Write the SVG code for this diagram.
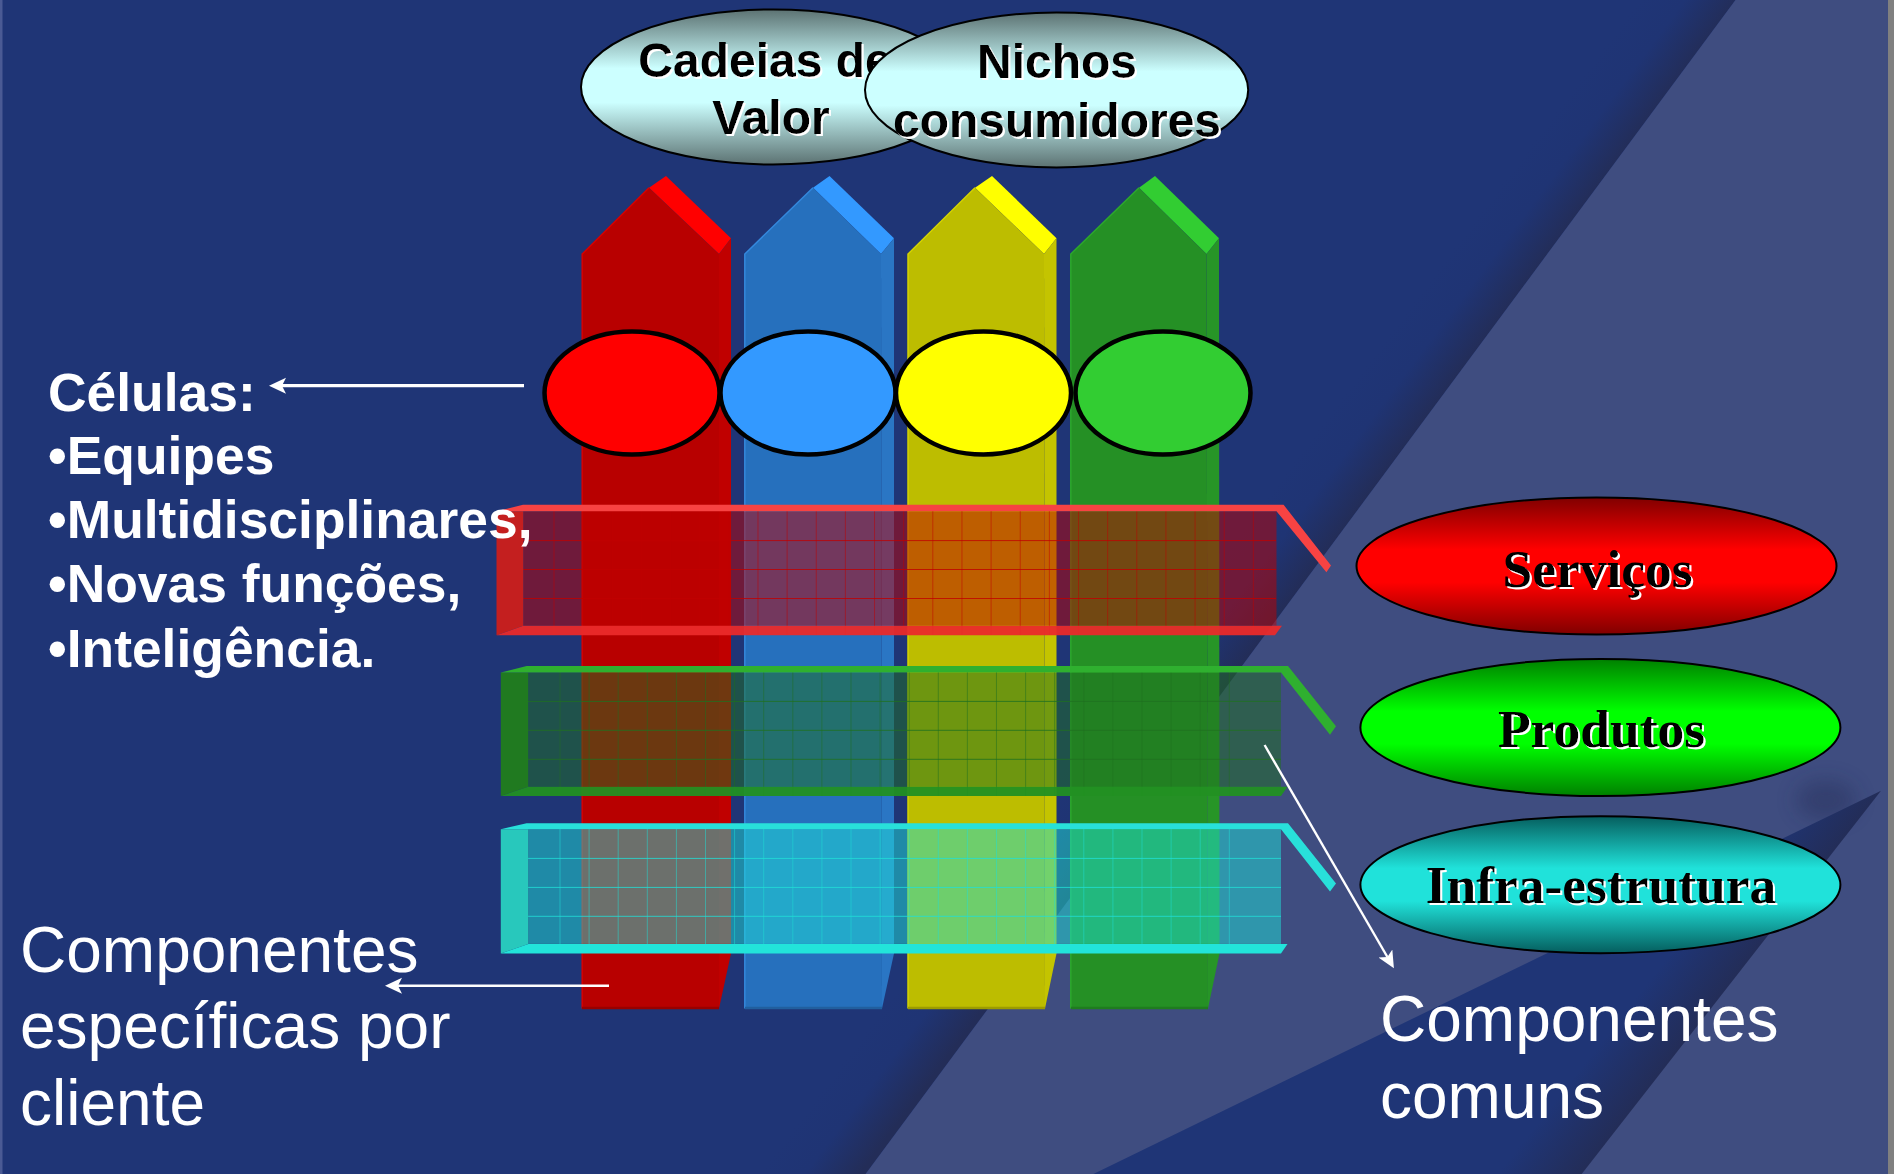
<svg xmlns="http://www.w3.org/2000/svg" width="1894" height="1174" viewBox="0 0 1894 1174">
<style>
.sans{font-family:"Liberation Sans",Arial,sans-serif}
.bold{font-weight:700}
.serif{font-family:"Liberation Serif","Times New Roman",serif;font-weight:700;font-size:53.5px;text-anchor:middle;fill:#000;filter:url(#whiteShadow)}
.top{font-size:48px;text-anchor:middle;fill:#000;filter:url(#whiteShadow)}
.list{font-size:53.4px;fill:#fff}
.note{font-size:64px;fill:#fff}
.cell{stroke:#000;stroke-width:4.5}
.oval{stroke:#000;stroke-width:2}
.conn{fill:none;stroke:#fff;marker-end:url(#head)}
.grid{fill:none;stroke-width:1;stroke-opacity:.5}
.gridh{fill:none;stroke-width:1;stroke-opacity:.8}
</style>
<defs>
<filter id="whiteShadow" x="-5%" y="-10%" width="110%" height="125%"><feDropShadow dx="2" dy="2" stdDeviation="0" flood-color="#fff" flood-opacity="1"/></filter>
<filter id="blur" x="-60%" y="-60%" width="220%" height="220%"><feGaussianBlur stdDeviation="10"/></filter>
<marker id="head" markerUnits="userSpaceOnUse" markerWidth="18" markerHeight="18" refX="4" refY="8" orient="auto"><path d="M17 8L0 0 4 8 0 16Z" fill="#fff"/></marker>
<linearGradient id="bgShade" gradientUnits="userSpaceOnUse" x1="1236" y1="539" x2="1300" y2="587"><stop offset="0" stop-color="#1f3576"/><stop offset="0.45" stop-color="#1f3474"/><stop offset="1" stop-color="#232d58"/></linearGradient>
<linearGradient id="wedgeShade" gradientUnits="userSpaceOnUse" x1="1680" y1="942" x2="1731" y2="982"><stop offset="0" stop-color="#1f3576"/><stop offset="1" stop-color="#232d58"/></linearGradient>
<linearGradient id="gCyanPale" x1="0" y1="0" x2="0" y2="1"><stop offset="0" stop-color="#5c7272"/><stop offset="0.38" stop-color="#ccffff"/><stop offset="0.6" stop-color="#ccffff"/><stop offset="1" stop-color="#5c7272"/></linearGradient>
<linearGradient id="gRed" x1="0" y1="0" x2="0" y2="1"><stop offset="0" stop-color="#800000"/><stop offset="0.38" stop-color="#ff0000"/><stop offset="0.62" stop-color="#ff0000"/><stop offset="1" stop-color="#800000"/></linearGradient>
<linearGradient id="gGreen" x1="0" y1="0" x2="0" y2="1"><stop offset="0" stop-color="#008000"/><stop offset="0.38" stop-color="#00ff00"/><stop offset="0.62" stop-color="#00ff00"/><stop offset="1" stop-color="#008000"/></linearGradient>
<linearGradient id="gTeal" x1="0" y1="0" x2="0" y2="1"><stop offset="0" stop-color="#055e5e"/><stop offset="0.38" stop-color="#20e2da"/><stop offset="0.62" stop-color="#20e2da"/><stop offset="1" stop-color="#055e5e"/></linearGradient>
</defs>

<g id="background">
<rect width="1894" height="1174" fill="#1f3576"/>
<polygon points="0,0 1735.5,0 865.6,1174 0,1174" fill="url(#bgShade)"/>
<polygon points="1735.5,0 1888,0 1888,1174 865.6,1174" fill="#3f4d80"/>
<ellipse cx="1826" cy="800" rx="30" ry="20" fill="#222c55" opacity="0.4" filter="url(#blur)"/>
<polygon points="1881,790.7 1581.7,1174 1093.4,1174" fill="url(#wedgeShade)"/>
<rect x="1888" width="6" height="1174" fill="#808080"/>
<rect width="2.5" height="1174" fill="#4a5a94"/>
</g>

<g id="column-red">
<polygon points="649,187.7 666,176 731,238.3 719,254" fill="#ff0000"/>
<polygon points="719,254 731,238.3 731,953.5 719,1008.6" fill="#c00000"/>
<polygon points="582.2,254 649,187.7 719,254 719,1008.6 582.2,1008.6" fill="#b80000"/>
<polyline points="582.2,1008.6 582.2,254 649,187.7" fill="none" stroke="#d80000" stroke-width="1.5"/>
<path d="M582 1008h137" stroke="#980000" stroke-width="2.5"/>
</g>
<g id="column-blue">
<polygon points="813,187.7 829.5,176 894,238.3 881,254" fill="#3399ff"/>
<polygon points="881,254 894,238.3 894,953.5 882,1008.6" fill="#2a76c4"/>
<polygon points="744.8,254 813,187.7 881,254 882,1008.6 744.8,1008.6" fill="#2670bd"/>
<polyline points="744.8,1008.6 744.8,254 813,187.7" fill="none" stroke="#3488dc" stroke-width="1.5"/>
<path d="M745 1008h137" stroke="#215f9f" stroke-width="2.5"/>
</g>
<g id="column-yellow">
<polygon points="975,187.7 992,176 1056.5,238.3 1044,254" fill="#ffff00"/>
<polygon points="1044,254 1056.5,238.3 1056.5,953.5 1045,1008.6" fill="#c4c400"/>
<polygon points="908,254 975,187.7 1044,254 1045,1008.6 908,1008.6" fill="#bdbd00"/>
<polyline points="908,1008.6 908,254 975,187.7" fill="none" stroke="#d4d400" stroke-width="1.5"/>
<path d="M908 1008h137" stroke="#9c9c00" stroke-width="2.5"/>
</g>
<g id="column-green">
<polygon points="1139,187.7 1155,176 1219,238.3 1206.5,254" fill="#32cd32"/>
<polygon points="1206.5,254 1219,238.3 1219.5,953.5 1208,1008.6" fill="#279527"/>
<polygon points="1070.8,254 1139,187.7 1206.5,254 1208,1008.6 1070.8,1008.6" fill="#259025"/>
<polyline points="1070.8,1008.6 1070.8,254 1139,187.7" fill="none" stroke="#2ca82c" stroke-width="1.5"/>
<path d="M1071 1008h137" stroke="#1f7c1f" stroke-width="2.5"/>
</g>

<g id="cell-red"><ellipse class="cell" cx="632" cy="393" rx="87.5" ry="61.5" fill="#ff0000"/></g>
<g id="cell-blue"><ellipse class="cell" cx="808" cy="393" rx="87.5" ry="61.5" fill="#3399ff"/></g>
<g id="cell-yellow"><ellipse class="cell" cx="983.5" cy="393" rx="87.5" ry="61.5" fill="#ffff00"/></g>
<g id="cell-green"><ellipse class="cell" cx="1163" cy="393" rx="87.5" ry="61.5" fill="#32cd32"/></g>

<g id="band-red">
<rect x="523.3" y="511.3" width="753.2" height="114.4" fill="#c00000" fill-opacity="0.5"/>
<path class="gridh" stroke="#c00000" d="M523 540.6H1276M523 569.5H1276M523 598.5H1276"/>
<path class="grid" stroke="#c00000" d="M554 511v124m29.14-124v124m29.14-124v124m29.14-124v124m29.14-124v124m29.14-124v124m29.14-124v124m29.14-124v124m29.14-124v124m29.14-124v124m29.14-124v124m29.14-124v124m29.14-124v124m29.14-124v124m29.14-124v124m29.14-124v124m29.14-124v124m29.14-124v124m29.14-124v124m29.14-124v124m29.14-124v124m29.14-124v124m29.14-124v124m29.14-124v124m29.14-124v124"/>
<polygon points="496.5,511.3 523.3,511.3 523.3,625.7 496.5,635.3" fill="#c41f1f"/>
<polygon points="496.5,635.3 523.3,625.7 1282,625.7 1275,635.3" fill="#ea2a2a" fill-opacity="0.95"/>
<polygon points="496.5,511.3 523,504.8 1283.6,504.8 1331,565.4 1326.4,572.3 1276.5,511.3" fill="#f74343"/>
</g>
<g id="band-green">
<rect x="528.3" y="672.5" width="752.7" height="114.3" fill="#1f7020" fill-opacity="0.5"/>
<path class="gridh" stroke="#1f7020" d="M528 701.4H1281M528 730.3H1281M528 759.3H1281"/>
<path class="grid" stroke="#1f7020" d="M560 672v124m29.1-124v124m29.1-124v124m29.1-124v124m29.1-124v124m29.1-124v124m29.1-124v124m29.1-124v124m29.1-124v124m29.1-124v124m29.1-124v124m29.1-124v124m29.1-124v124m29.1-124v124m29.1-124v124m29.1-124v124m29.1-124v124m29.1-124v124m29.1-124v124m29.1-124v124m29.1-124v124m29.1-124v124m29.1-124v124m29.1-124v124"/>
<polygon points="500.8,672.5 528.3,672.5 528.3,786.8 500.8,796" fill="#207a20"/>
<polygon points="500.8,796 528.3,786.8 1287.5,786.8 1281,796" fill="#229022" fill-opacity="0.95"/>
<polygon points="500.8,672.5 526.6,666 1288,666 1336,726.2 1330,734.8 1281,672.5" fill="#2fb02f"/>
</g>
<g id="band-cyan">
<rect x="528.3" y="829.2" width="752.7" height="114.7" fill="#20e0d8" fill-opacity="0.5"/>
<path class="gridh" stroke="#20e0d8" d="M528 858.4H1281M528 887.4H1281M528 916.3H1281"/>
<path class="grid" stroke="#20e0d8" d="M560 829v115m29.1-115v115m29.1-115v115m29.1-115v115m29.1-115v115m29.1-115v115m29.1-115v115m29.1-115v115m29.1-115v115m29.1-115v115m29.1-115v115m29.1-115v115m29.1-115v115m29.1-115v115m29.1-115v115m29.1-115v115m29.1-115v115m29.1-115v115m29.1-115v115m29.1-115v115m29.1-115v115m29.1-115v115m29.1-115v115m29.1-115v115"/>
<polygon points="500.8,829.2 528.3,829.2 528.3,943.9 500.8,953.5" fill="#28c8bc"/>
<polygon points="500.8,953.5 528.3,943.9 1287.5,943.9 1281,953.5" fill="#22e4da"/>
<polygon points="500.8,829.2 526.6,823.3 1288,823.3 1336,883.6 1330,891.5 1281,829.2" fill="#28e0da"/>
</g>

<g id="node-cadeias">
<ellipse class="oval" cx="773" cy="87" rx="192" ry="77.5" fill="url(#gCyanPale)"/>
<text class="sans bold top" x="765" y="76.7">Cadeias de</text>
<text class="sans bold top" x="771" y="134.3">Valor</text>
</g>
<g id="node-nichos">
<ellipse class="oval" cx="1056.6" cy="90" rx="191.6" ry="77.5" fill="url(#gCyanPale)"/>
<text class="sans bold top" x="1057" y="78.3">Nichos</text>
<text class="sans bold top" x="1057" y="136.7">consumidores</text>
</g>

<g id="node-servicos">
<ellipse class="oval" cx="1596.5" cy="566" rx="240" ry="68.5" fill="url(#gRed)"/>
<text class="serif" x="1597.5" y="586.7">Serviços</text>
</g>
<g id="node-produtos">
<ellipse class="oval" cx="1600.4" cy="727.5" rx="240" ry="68.5" fill="url(#gGreen)"/>
<text class="serif" x="1601.5" y="747.3">Produtos</text>
</g>
<g id="node-infra">
<ellipse class="oval" cx="1600.4" cy="884.7" rx="240" ry="68.5" fill="url(#gTeal)"/>
<text class="serif" x="1601" y="903.3">Infra-estrutura</text>
</g>

<g id="label-celulas" class="sans bold list">
<text x="48" y="410.7">Células:</text>
<text x="48" y="474.3">•Equipes</text>
<text x="48" y="538.3">•Multidisciplinares,</text>
<text x="48" y="602.3">•Novas funções,</text>
<text x="48" y="666.7">•Inteligência.</text>
</g>
<g id="label-especificas" class="sans note">
<text x="20" y="971.7">Componentes</text>
<text x="20" y="1048.3">específicas por</text>
<text x="20" y="1125">cliente</text>
</g>
<g id="label-comuns" class="sans note">
<text x="1380" y="1040.7">Componentes</text>
<text x="1380" y="1118.3">comuns</text>
</g>

<g id="connectors">
<line class="conn" stroke-width="3.2" x1="524" y1="385.7" x2="282" y2="385.7"/>
<line class="conn" stroke-width="2.6" x1="609" y1="985.7" x2="398" y2="985.7"/>
<line class="conn" stroke-width="2.4" x1="1264.6" y1="745" x2="1387.4" y2="957"/>
</g>
</svg>
